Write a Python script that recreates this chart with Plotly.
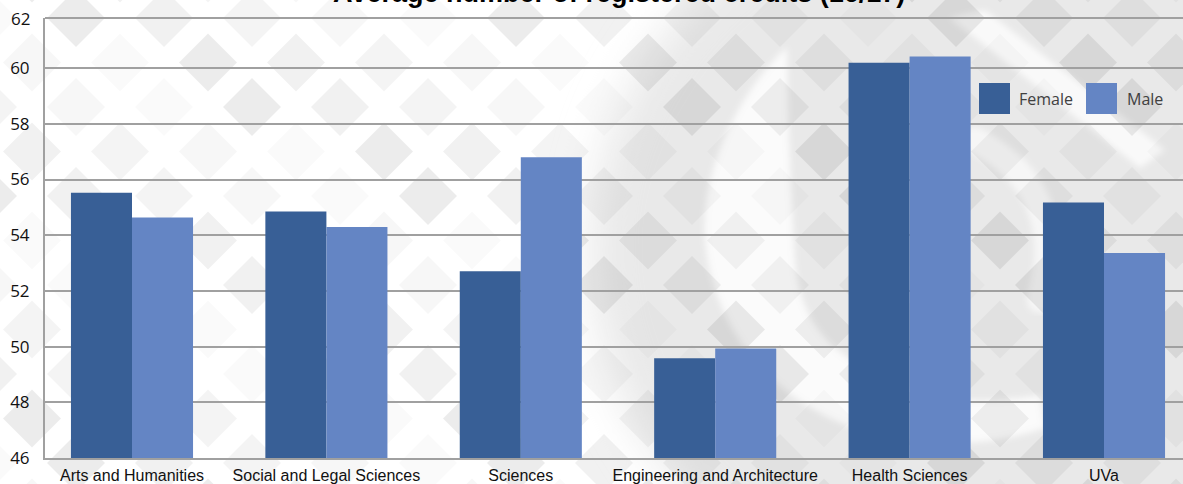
import base64
import plotly.graph_objects as go

# ---------------- data ----------------
categories = ["Arts and Humanities", "Social and Legal Sciences", "Sciences",
              "Engineering and Architecture", "Health Sciences", "UVa"]
female = [55.52, 54.85, 52.71, 49.58, 60.19, 55.17]
male = [54.64, 54.29, 56.80, 49.93, 60.42, 53.36]
y_ticks = [46, 48, 50, 52, 54, 56, 58, 60, 62]
series_names = ["Female", "Male"]
title_text = "Average number of registered credits (16/17)"

# ---------------- layout constants ----------------
W, H = 1183, 484
L, R, T, B = 45, 0, 18, 26
PW = W - L - R
PH = H - T - B
PX_PER_UNIT = 27.85
CAT_STEP = 194.4
FIRST_CENTER = 132

FEMALE_C = "#385F96"
MALE_C = "#6485C4"
GRID_C = "#a0a0a0"
TEXT_C = "#111111"


def px_x(p):
    return (p - L) / PW


def px_y(p):
    return (H - B - p) / PH


def background_svg():
    s = [f'<svg xmlns="http://www.w3.org/2000/svg" width="{W}" height="{H}" viewBox="0 0 {W} {H}">']
    s.append('<defs><filter id="bl" x="-30%" y="-30%" width="160%" height="160%">'
             '<feGaussianBlur stdDeviation="22"/></filter>'
             '<filter id="bs"><feGaussianBlur stdDeviation="3"/></filter></defs>')
    s.append(f'<rect width="{W}" height="{H}" fill="#ffffff"/>')
    s.append('<ellipse cx="1010" cy="250" rx="420" ry="380" fill="#e9e9e9" filter="url(#bl)"/>')
    # white crescent of the watermark
    s.append('<path d="M787,47 C740,90 700,170 705,240 C712,330 780,420 900,440 '
             'C960,448 1010,440 1045,428 L1040,395 C1000,402 940,405 900,385 '
             'C840,360 800,330 795,260 C790,180 788,110 787,47 Z" fill="#ffffff" fill-opacity="0.8" filter="url(#bs)"/>')
    s.append('<path d="M950,18 L985,10 L1165,150 L1140,168 Z" fill="#ffffff" fill-opacity="0.75" filter="url(#bs)"/>')
    s.append('<path d="M975,140 Q1070,190 1040,300" stroke="#ffffff" stroke-opacity="0.6" '
             'stroke-width="26" fill="none" stroke-linecap="round" filter="url(#bs)"/>')
    alphas = [0.075, 0.03, 0.055, 0.018, 0.042]
    for j in range(-1, 12):
        y = 18 + 44.5 * j
        x0 = 76 if j % 2 == 0 else 120
        for k in range(-2, 15):
            x = x0 + 88 * k
            a = alphas[(k * 7 + j * 3) % 5]
            s.append(f'<path d="M{x-29},{y} L{x},{y-29} L{x+29},{y} L{x},{y+29} Z" '
                     f'fill="#000000" fill-opacity="{a}"/>')
    s.append('</svg>')
    return "data:image/svg+xml;base64," + base64.b64encode("".join(s).encode()).decode()


fig = go.Figure()
fig.add_trace(go.Bar(x=categories, y=female, name=series_names[0],
                     marker=dict(color=FEMALE_C, line=dict(width=0)), showlegend=False))
fig.add_trace(go.Bar(x=categories, y=male, name=series_names[1],
                     marker=dict(color=MALE_C, line=dict(width=0)), showlegend=False))

r0 = (L - FIRST_CENTER) / CAT_STEP
r1 = r0 + PW / CAT_STEP

annotations = [
    dict(text=title_text, xref="paper", yref="paper", x=px_x(619), y=px_y(10),
         xanchor="center", yanchor="bottom", showarrow=False,
         font=dict(family="Liberation Sans, Arial, sans-serif", size=27, color="#000000", weight="bold")),
    dict(text=str(y_ticks[-1]), xref="paper", yref="paper", x=px_x(32), y=1,
         xanchor="right", yanchor="middle", showarrow=False,
         font=dict(family="Open Sans, sans-serif", size=17, color=TEXT_C)),
]
shapes = [
    dict(type="line", xref="paper", yref="paper", x0=0, x1=1, y0=1, y1=1,
         line=dict(color=GRID_C, width=2), layer="below"),
]
# custom legend
leg = [(series_names[0], FEMALE_C, 979, 1017), (series_names[1], MALE_C, 1086, 1125)]
for name, col, sx, tx in leg:
    shapes.append(dict(type="rect", xref="paper", yref="paper",
                       x0=px_x(sx), x1=px_x(sx + 31), y0=px_y(114), y1=px_y(83),
                       fillcolor=col, line=dict(width=0), layer="above"))
    annotations.append(dict(text=name, xref="paper", yref="paper", x=px_x(tx), y=px_y(99),
                            xanchor="left", yanchor="middle", showarrow=False,
                            font=dict(family="Open Sans, sans-serif", size=16, color="#404040")))

fig.update_layout(
    width=W, height=H,
    margin=dict(l=L, r=R, t=T, b=B, pad=0, autoexpand=False),
    paper_bgcolor="#ffffff",
    plot_bgcolor="rgba(0,0,0,0)",
    barmode="group", bargap=0.372, bargroupgap=0,
    annotations=annotations,
    shapes=shapes,
    images=[dict(source=background_svg(), xref="paper", yref="paper",
                 x=px_x(0), y=px_y(0), sizex=W / PW, sizey=H / PH,
                 xanchor="left", yanchor="top", sizing="stretch", layer="below")],
    xaxis=dict(type="category", range=[r0, r1], showgrid=False,
               showline=True, linecolor=GRID_C, linewidth=2,
               ticks="", ticklabelstandoff=2,
               tickfont=dict(family="Liberation Sans, Arial, sans-serif",
                             size=16, color=TEXT_C)),
    yaxis=dict(range=[46, 46 + PH / PX_PER_UNIT], tickvals=y_ticks, ticktext=[str(v) for v in y_ticks],
               showgrid=True, gridcolor=GRID_C, gridwidth=2, zeroline=False,
               showline=True, linecolor=GRID_C, linewidth=2,
               ticks="", ticklabelstandoff=10,
               tickfont=dict(family="Open Sans, sans-serif", size=17, color=TEXT_C)),
)

fig.write_html("out.html", config={"displayModeBar": False},
               post_script="document.body.style.margin='0';document.body.style.overflow='hidden';")
